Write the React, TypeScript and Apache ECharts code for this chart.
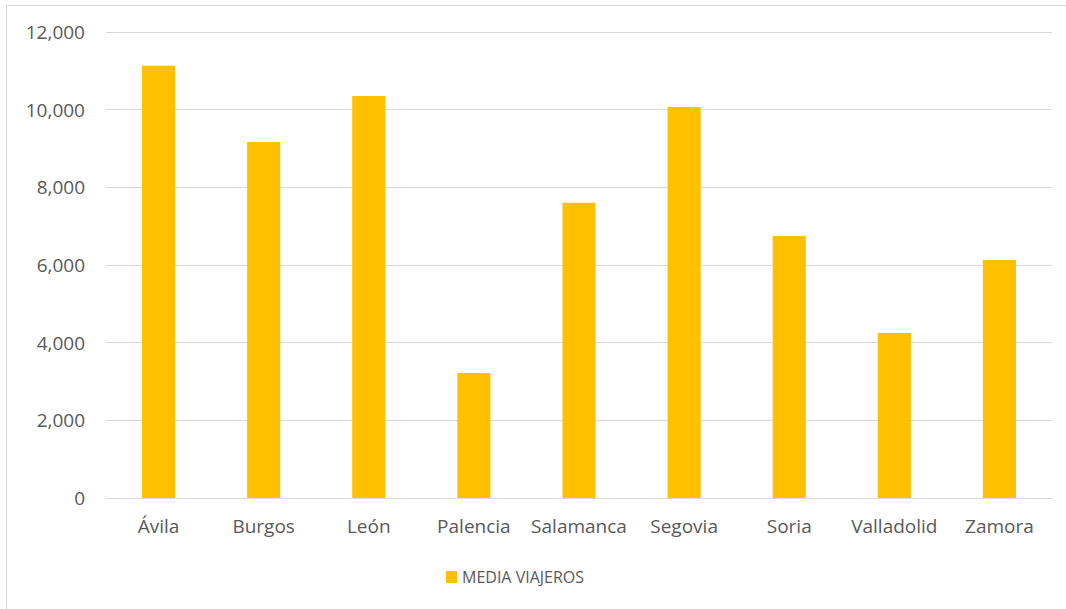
import React, { useEffect, useRef } from "react";
import * as echarts from "echarts";

const categories = ["Ávila", "Burgos", "León", "Palencia", "Salamanca", "Segovia", "Soria", "Valladolid", "Zamora"];
const mediaViajeros = [11130, 9170, 10350, 3220, 7600, 10070, 6750, 4250, 6130];
const seriesName = "MEDIA VIAJEROS";

export default function App() {
  const ref = useRef<HTMLDivElement>(null);
  useEffect(() => {
    if (!ref.current) return;
    const chart = echarts.init(ref.current, null, { renderer: "svg" });
    const font = "'Open Sans', 'Noto Sans', sans-serif";
    chart.setOption({
      animation: false,
      backgroundColor: "#ffffff",
      graphic: [
        {
          type: "rect",
          shape: { x: 6.5, y: 5.5, width: 1070, height: 620 },
          style: { fill: "none", stroke: "#d9d9d9", lineWidth: 1 },
          silent: true,
        },
      ],
      grid: { left: 106, right: 14, top: 32, bottom: 111, containLabel: false },
      legend: {
        data: [seriesName],
        top: 564,
        left: 441,
        itemWidth: 11,
        itemHeight: 12,
        itemGap: 5,
        icon: "rect",
        textStyle: { color: "#595959", fontSize: 16, fontFamily: font },
      },
      xAxis: {
        type: "category",
        data: categories,
        axisLine: { lineStyle: { color: "#d9d9d9", width: 1 } },
        axisTick: { show: false },
        axisLabel: { color: "#595959", fontSize: 19, fontFamily: font, margin: 18, interval: 0 },
      },
      yAxis: {
        type: "value",
        min: 0,
        max: 12000,
        interval: 2000,
        axisLine: { show: false },
        axisTick: { show: false },
        splitLine: { lineStyle: { color: "#d9d9d9", width: 1 } },
        axisLabel: {
          color: "#595959",
          fontSize: 19,
          fontFamily: font,
          margin: 21,
          formatter: (v: number) => v.toLocaleString("en-US"),
        },
      },
      series: [
        {
          name: seriesName,
          type: "bar",
          data: mediaViajeros,
          barWidth: "31.5%",
          itemStyle: { color: "#ffc000" },
        },
      ],
    });
    return () => chart.dispose();
  }, []);
  return (
    <div
      ref={ref}
      style={{ position: "absolute", left: 0, top: 0, width: 1066, height: 609 }}
    />
  );
}
